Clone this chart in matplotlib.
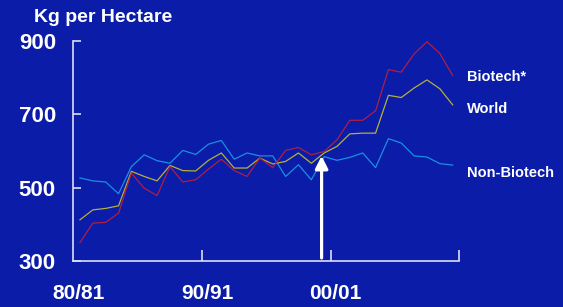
import matplotlib
matplotlib.use("Agg")
import matplotlib.pyplot as plt
import matplotlib.transforms as mtransforms

# one point per season, 80/81 -> 1981
years = [1981, 1982, 1983, 1984, 1985, 1986, 1987, 1988, 1989, 1990,
         1991, 1992, 1993, 1994, 1995, 1996, 1997, 1998, 1999, 2000,
         2001, 2002, 2003, 2004, 2005, 2006, 2007, 2008, 2009, 2010]

biotech = [351, 404, 406, 431, 540, 499, 479, 558, 516, 522,
           551, 578, 547, 531, 581, 555, 602, 610, 590, 599,
           631, 684, 684, 710, 822, 815, 865, 898, 866, 806]
world = [413, 440, 444, 451, 545, 531, 519, 561, 547, 546,
         575, 595, 554, 554, 581, 565, 572, 595, 567, 595,
         613, 647, 649, 649, 752, 746, 772, 794, 770, 726]
non_biotech = [527, 519, 516, 484, 558, 590, 574, 567, 602, 591,
               619, 629, 578, 595, 587, 587, 531, 563, 522, 585,
               575, 583, 595, 555, 634, 622, 587, 584, 566, 562]

series_names = ["Biotech*", "World", "Non-Biotech"]
y_ticks = [300, 500, 700, 900]
x_tick_pos = [1990.5, 2000.5, 2010.5]
x_label_pos = [1980.9, 1990.9, 2000.9]
x_labels = ["80/81", "90/91", "00/01"]
arrow_year = 1999.8
arrow_top = 587

bg = "#0a1ca8"
axis_col = "#dcdff0"
colors = {"Biotech*": "#b01e44", "World": "#b4b03c", "Non-Biotech": "#1b8ee2"}

plt.rcParams["font.family"] = ["Liberation Sans", "DejaVu Sans"]

fig = plt.figure(figsize=(5.63, 3.07), dpi=100, facecolor=bg)
ax = fig.add_axes([73.3 / 563, 0.1489, 386.7 / 563, 0.7176], facecolor=bg)

ax.plot(years, non_biotech, color=colors["Non-Biotech"], lw=0.9)
ax.plot(years, world, color=colors["World"], lw=0.9)
ax.plot(years, biotech, color=colors["Biotech*"], lw=0.9)

ax.set_xlim(1980.48, 2010.57)
ax.set_ylim(300, 900)

for s in ["top", "right"]:
    ax.spines[s].set_visible(False)
for s in ["left", "bottom"]:
    ax.spines[s].set_color(axis_col)
    ax.spines[s].set_linewidth(1.2)
ax.spines["bottom"].set_bounds(1980.48, 2010.5)

ax.set_yticks(y_ticks)
ax.set_yticklabels([str(v) for v in y_ticks], fontsize=16, fontweight="bold", color="white")
ax.tick_params(axis="y", direction="in", length=6, width=1.2, color=axis_col, pad=12.5)
ax.set_xticks(x_tick_pos)
ax.set_xticklabels([])
ax.tick_params(axis="x", direction="in", length=8, width=1.2, color=axis_col)

trans = mtransforms.blended_transform_factory(ax.transData, ax.transAxes)
for xp, lab in zip(x_label_pos, x_labels):
    ax.text(xp, -0.148, lab, transform=trans, ha="center", va="center",
            fontsize=15, fontweight="bold", color="white")

fig.text(34 / 563, 1 - 17 / 307, "Kg per Hectare", ha="left", va="center",
         fontsize=14, fontweight="bold", color="white")

# series labels on the right
label_y = {"Biotech*": 77, "World": 109, "Non-Biotech": 173}
for name in series_names:
    fig.text(467 / 563, 1 - label_y[name] / 307, name, ha="left", va="center",
             fontsize=10.5, fontweight="bold", color="white")

ax.annotate("", xy=(arrow_year, arrow_top), xytext=(arrow_year, 309),
            arrowprops=dict(arrowstyle="-|>,head_width=0.38,head_length=0.75",
                            color="white", lw=2.3, shrinkA=0, shrinkB=0))

fig.savefig("out.png", dpi=100, facecolor=bg)
